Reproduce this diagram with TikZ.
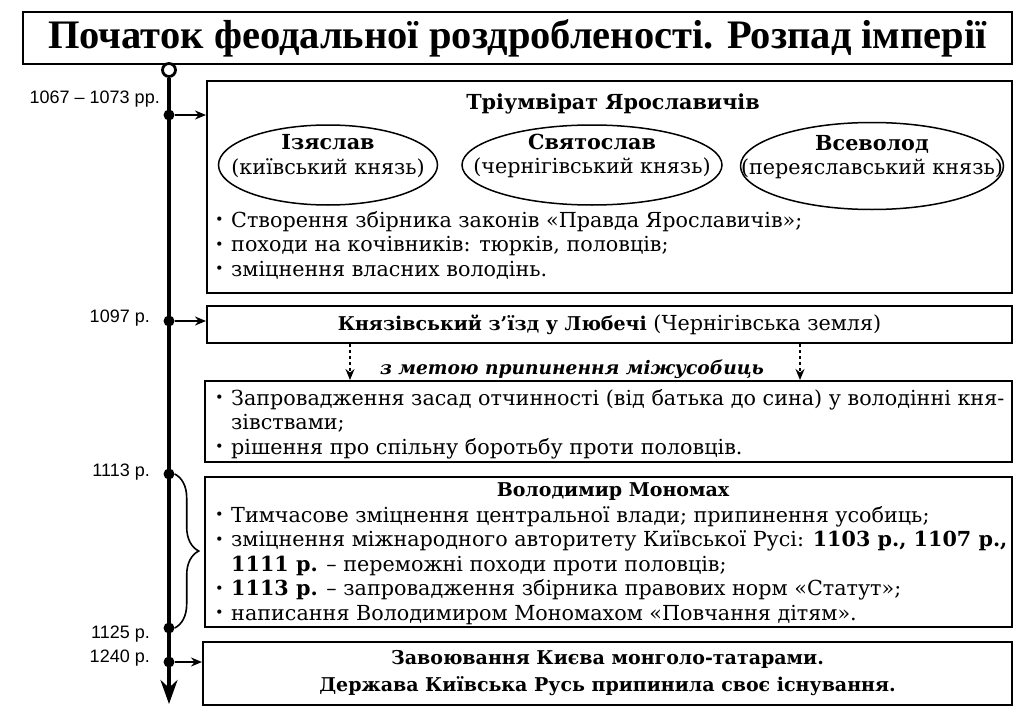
\documentclass[tikz,border=0pt]{standalone}
\usepackage{fontspec}
\setmainfont{DejaVu Serif}
\newfontfamily\datefont{Liberation Sans}
\newfontfamily\headfont{Liberation Serif}
\usetikzlibrary{positioning, arrows.meta, shapes.geometric, decorations.pathreplacing}

\newcommand{\bodysize}{\fontsize{20.7}{24.5}\selectfont}
\newcommand{\bfsmall}[1]{{\fontsize{19}{24.5}\selectfont\bfseries #1}}
\newcommand{\bul}{\makebox[16pt][l]{\raisebox{0.22ex}{\scalebox{0.7}{\textbullet}}}}
\newcommand{\indt}{\hspace*{16pt}}

\begin{document}
\begin{tikzpicture}[
        x=1pt, y=-1pt,
        font=\bodysize,
        >={Stealth[length=11pt, width=9pt]},
        box/.style={draw, line width=2pt, inner sep=0pt},
        head/.style={font=\bodysize\bfseries},
        prince/.style={draw, ellipse, line width=1.5pt, inner sep=0pt},
        date/.style={anchor=east, inner sep=0pt, font=\datefont\fontsize{18}{20}\selectfont},
        event/.style={circle, fill, inner sep=0pt, minimum size=11pt},
        timeline/.style={line width=3.5pt},
        link/.style={->, line width=2pt},
        aim/.style={->, dashed, line width=1.6pt},
        lines/.style={anchor=north west, align=left, inner sep=0pt}
    ]
    \useasboundingbox (0,0) rectangle (1025,725);

    % ========================================================
    % 1. TITLE
    % ========================================================
    \node[box, line width=2.6pt, minimum width=989pt, minimum height=52pt,
          font=\headfont\bfseries\fontsize{40.5}{42}\selectfont] (title) at (517.5,38)
        {Початок феодальної роздробленості. Розпад імперії};

    % ========================================================
    % 2. TIMELINE
    % ========================================================
    \node[draw, circle, line width=2.8pt, minimum size=13pt, inner sep=0pt] (start) at (169,70) {};
    \coordinate (end) at (169,704);
    \draw[timeline, -{Stealth[length=24pt, width=17pt]}] (start) -- (end);

    \node[event] (e1067) at (169,115) {};
    \node[event] (e1097) at (169,321) {};
    \node[event] (e1113) at (169,474) {};
    \node[event] (e1125) at (169,628) {};
    \node[event] (e1240) at (169,662) {};

    \node[date] (d1067) at (160,99) {1067 – 1073 рр.};
    \node[date] (d1097) at (150,318) {1097 р.};
    \node[date] (d1113) at (150,472) {1113 р.};
    \node[date] (d1125) at (150,634) {1125 р.};
    \node[date] (d1240) at (150,658) {1240 р.};

    % Brace 1113-1125
    \draw[decorate, decoration={brace, amplitude=24pt}, line width=1.6pt] (e1113.east) -- (e1125.east);

    % ========================================================
    % 3. BOXES
    % ========================================================
    % -- A. Triumvirate --
    \node[box, minimum width=805pt, minimum height=212pt] (triumv) at (609.5,187) {};
    \node[head] (trtitle) at (613,104) {Тріумвірат Ярославичів};
    \node[prince, minimum width=219pt, minimum height=80pt] (izyaslav) at (328,165) {};
    \node[prince, minimum width=260pt, minimum height=80pt] (svyatoslav) at (592,165) {};
    \node[prince, minimum width=263pt, minimum height=87pt] (vsevolod) at (872,166) {};
    \node[align=center, yshift=9pt] (izname) at (izyaslav) {\textbf{Ізяслав}\\(київський князь)};
    \node[align=center, yshift=9pt] (svname) at (svyatoslav) {\textbf{Святослав}\\(чернігівський князь)};
    \node[align=center, yshift=9pt] (vsname) at (vsevolod) {\textbf{Всеволод}\\(переяславський князь)};
    \node[lines] (trlist) at (215,211) {%
        \bul Створення збірника законів «Правда Ярославичів»;\\
        \bul походи на кочівників: тюрків, половців;\\
        \bul зміцнення власних володінь.};

    % -- B. Lyubech congress --
    \node[box, minimum width=805pt, minimum height=37pt] (lubech) at (609.5,324.5)
        {\bfsmall{Князівський з’їзд у Любечі} (Чернігівська земля)};

    \node[font=\fontsize{18.6}{22}\selectfont\bfseries\itshape] (goal) at (572,369) {з метою припинення міжусобиць};

    % -- C. Decisions --
    \node[box, minimum width=807pt, minimum height=81pt] (decide) at (608.5,421.5) {};
    \node[lines] (delist) at (215,389) {%
        \bul Запровадження засад отчинності (від батька до сина) у володінні кня-\\
        \indt зівствами;\\
        \bul рішення про спільну боротьбу проти половців.};

    \draw[aim] (350,0 |- lubech.south) -- (350,0 |- decide.north);
    \draw[aim] (800,0 |- lubech.south) -- (800,0 |- decide.north);

    % -- D. Monomakh --
    \node[font=\fontsize{19}{24}\selectfont\bfseries] (motitle) at (613,492) {Володимир Мономах};
    \node[box, minimum width=807pt, minimum height=150pt] (monomakh) at (608.5,552) {};
    \node[lines] (molist) at (215,506) {%
        \bul Тимчасове зміцнення центральної влади; припинення усобиць;\\
        \bul зміцнення міжнародного авторитету Київської Русі: \textbf{1103 р., 1107 р.,}\\
        \indt\textbf{1111 р.} – переможні походи проти половців;\\
        \bul \textbf{1113 р.} – запровадження збірника правових норм «Статут»;\\
        \bul написання Володимиром Мономахом «Повчання дітям».};

    % -- E. Mongol conquest --
    \node[box, minimum width=809pt, minimum height=63pt, align=center,
          font=\fontsize{19}{27}\selectfont\bfseries] (conquest) at (607.5,673.5)
        {Завоювання Києва монголо-татарами.\\Держава Київська Русь припинила своє існування.};

    % Arrows from timeline
    \draw[link] (e1067) -- (e1067 -| triumv.west);
    \draw[link] (e1097) -- (e1097 -| lubech.west);
    \draw[link] (e1240) -- (e1240 -| conquest.west);

\end{tikzpicture}
\end{document}
